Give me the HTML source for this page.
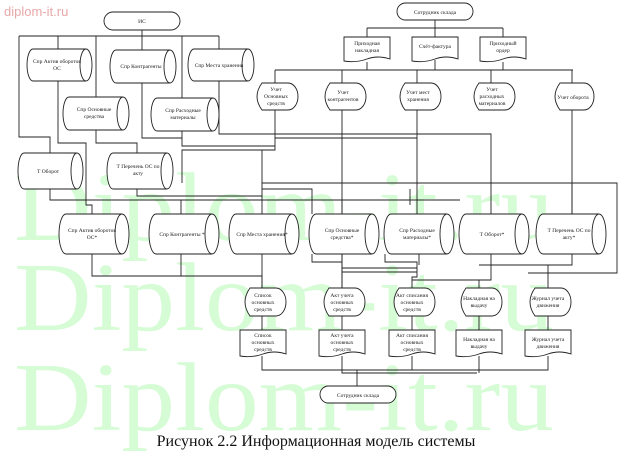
<!DOCTYPE html>
<html><head><meta charset="utf-8"><style>
html,body{margin:0;padding:0;background:#fff;width:629px;height:460px;overflow:hidden}
svg{display:block}
text{font-family:"Liberation Serif","DejaVu Serif",serif}
.t{font-size:5.5px;fill:#222;text-anchor:middle}
.s{fill:#fff;stroke:#222;stroke-width:0.9}
.l{fill:none;stroke:#222;stroke-width:0.9}
.wm{font-size:98px;fill:#d6fcd6}
</style></head><body>
<svg width="629" height="460" viewBox="0 0 629 460" xmlns="http://www.w3.org/2000/svg">
<text class="wm" x="14" y="240" textLength="540" lengthAdjust="spacingAndGlyphs">Diplom-it.ru</text>
<text class="wm" x="14" y="330" textLength="540" lengthAdjust="spacingAndGlyphs">Diplom-it.ru</text>
<text class="wm" x="14" y="430" textLength="540" lengthAdjust="spacingAndGlyphs">Diplom-it.ru</text>
<text x="4" y="16" style="font-family:'Liberation Sans',sans-serif;font-size:13px;fill:#e9a8a8">diplom-it.ru</text>

<!-- connectors -->
<g class="l">
<path d="M142 30V36M19 36H219"/>
<path d="M19 36V137H50V153"/>
<path d="M58 36V49M58 81V143H86V200"/>
<path d="M96 36V97M96 130V143H137V153"/>
<path d="M142 36V50M142 83V138H182"/>
<path d="M182 36V98M182 131V146H275"/>
<path d="M219 36V134H275"/>
<path d="M435 20V28M367 28H503M367 28V37M435 28V37M503 28V37"/>
<path d="M367 62V70M435 60V70M503 62V70M275 70H573"/>
<path d="M275 70V83M342 70V83M417 70V83M491 70V83M572 70V83"/>
<path d="M275 110V150H262V183"/>
<path d="M275 134H491V183M275 138H417"/>
<path d="M342 110V288M417 110V183M572 110V214"/>
<path d="M262 150H182V183M262 183H617V273H528"/>
<path d="M50 189V200H460M137 189V196H262V214"/>
<path d="M262 196V183M86 200V205H92V214"/>
<path d="M181 200V214M342 200V214M417 183V214M491 183V214M572 183V214"/>
<path d="M262 189H312V214M312 189V205M410 189V205"/>
<path d="M92 254V276H262V288"/>
<path d="M181 254V276"/>
<path d="M262 254V288"/>
<path d="M312 254V262H342"/>
<path d="M342 254V288"/>
<path d="M385 254V262H417V277H412V288"/>
<path d="M419 254V265M491 254V280H479V288"/>
<path d="M572 254V265H479M548 265V288"/>
<path d="M342 268H417M342 272H417M412 280H491"/>
<path d="M262 316V330M342 316V330M412 316V330M479 316V330M548 316V330"/>
<path d="M262 356V370H548V356M342 356V373H477M412 356V370M479 356V373"/>
<path d="M357 370V386"/>
</g>

<!-- terminators -->
<rect class="s" x="104" y="12" width="76" height="18" rx="9"/><text class="t" x="142" y="23">ИС</text>
<rect class="s" x="397" y="3" width="76" height="17" rx="8.5"/><text class="t" x="435" y="14">Сотрудник склада</text>
<rect class="s" x="320" y="386" width="76" height="17" rx="8.5"/><text class="t" x="358" y="397">Сотрудник склада</text>

<!-- top docs -->
<g class="s">
<path d="M344 37H390V59Q378 55 367 59Q356 63 344 61Z"/>
<path d="M412 37H458V59Q446 55 435 59Q424 63 412 61Z"/>
<path d="M480 37H526V59Q514 55 503 59Q492 63 480 61Z"/>
</g>
<text class="t" x="367" y="45">Приходная</text><text class="t" x="367" y="52">накладная</text>
<text class="t" x="435" y="48">Счёт-фактура</text>
<text class="t" x="503" y="45">Приходный</text><text class="t" x="503" y="52">ордер</text>

<!-- top displays -->
<g class="s">
<path d="M262 83H288A10 13.5 0 0 1 288 110H262Q252 96.5 262 83Z"/>
<path d="M330 83H356A10 13.5 0 0 1 356 110H330Q320 96.5 330 83Z"/>
<path d="M405 83H431A10 13.5 0 0 1 431 110H405Q395 96.5 405 83Z"/>
<path d="M479 83H505A10 13.5 0 0 1 505 110H479Q469 96.5 479 83Z"/>
<path d="M560 83H584A10 13.5 0 0 1 584 110H560Q550 96.5 560 83Z"/>
</g>
<text class="t" x="276" y="91">Учет</text><text class="t" x="276" y="98">Основных</text><text class="t" x="276" y="105">средств</text>
<text class="t" x="343" y="94">Учет</text><text class="t" x="343" y="101">контрагентов</text>
<text class="t" x="418" y="94">Учет мест</text><text class="t" x="418" y="101">хранения</text>
<text class="t" x="492" y="91">Учет</text><text class="t" x="492" y="98">расходных</text><text class="t" x="492" y="105">материалов</text>
<text class="t" x="573" y="99">Учет оборота</text>

<!-- cylinders -->
<g class="s">
<path d="M33 49H86A6 16 0 0 1 86 81H33A6 16 0 0 1 33 49Z"/><path d="M86 49A6 16 0 0 0 86 81"/>
<path d="M116 50H170A6 16.5 0 0 1 170 83H116A6 16.5 0 0 1 116 50Z"/><path d="M170 50A6 16.5 0 0 0 170 83"/>
<path d="M194 49H248A6 16 0 0 1 248 81H194A6 16 0 0 1 194 49Z"/><path d="M248 49A6 16 0 0 0 248 81"/>
<path d="M69 97H123A6 16.5 0 0 1 123 130H69A6 16.5 0 0 1 69 97Z"/><path d="M123 97A6 16.5 0 0 0 123 130"/>
<path d="M157 98H213A6 16.5 0 0 1 213 131H157A6 16.5 0 0 1 157 98Z"/><path d="M213 98A6 16.5 0 0 0 213 131"/>
<path d="M24 153H77A6 18 0 0 1 77 189H24A6 18 0 0 1 24 153Z"/><path d="M77 153A6 18 0 0 0 77 189"/>
<path d="M113 153H167A6 18 0 0 1 167 189H113A6 18 0 0 1 113 153Z"/><path d="M167 153A6 18 0 0 0 167 189"/>
<path d="M66 214H122A7 20 0 0 1 122 254H66A7 20 0 0 1 66 214Z"/><path d="M122 214A7 20 0 0 0 122 254"/>
<path d="M156 214H212A7 20 0 0 1 212 254H156A7 20 0 0 1 156 214Z"/><path d="M212 214A7 20 0 0 0 212 254"/>
<path d="M236 214H292A7 20 0 0 1 292 254H236A7 20 0 0 1 236 214Z"/><path d="M292 214A7 20 0 0 0 292 254"/>
<path d="M316 214H372A7 20 0 0 1 372 254H316A7 20 0 0 1 316 214Z"/><path d="M372 214A7 20 0 0 0 372 254"/>
<path d="M391 214H447A7 20 0 0 1 447 254H391A7 20 0 0 1 391 214Z"/><path d="M447 214A7 20 0 0 0 447 254"/>
<path d="M466 214H522A7 20 0 0 1 522 254H466A7 20 0 0 1 466 214Z"/><path d="M522 214A7 20 0 0 0 522 254"/>
<path d="M543 214H599A7 20 0 0 1 599 254H543A7 20 0 0 1 543 214Z"/><path d="M599 214A7 20 0 0 0 599 254"/>
</g>
<text class="t" x="57" y="63">Спр Актив оборотов</text><text class="t" x="57" y="70">ОС</text>
<text class="t" x="141" y="68">Спр Контрагенты</text>
<text class="t" x="219" y="67">Спр Места хранения</text>
<text class="t" x="94" y="111">Спр Основные</text><text class="t" x="94" y="118">средства</text>
<text class="t" x="183" y="112">Спр Расходные</text><text class="t" x="183" y="119">материалы</text>
<text class="t" x="48" y="173">Т Оборот</text>
<text class="t" x="138" y="168">Т Перечень ОС по</text><text class="t" x="138" y="175">акту</text>
<text class="t" x="92" y="232">Спр Актив оборотов</text><text class="t" x="92" y="239">ОС*</text>
<text class="t" x="182" y="236">Спр Контрагенты *</text>
<text class="t" x="262" y="236">Спр Места хранения*</text>
<text class="t" x="342" y="232">Спр Основные</text><text class="t" x="342" y="239">средства*</text>
<text class="t" x="417" y="232">Спр Расходные</text><text class="t" x="417" y="239">материалы*</text>
<text class="t" x="492" y="236">Т Оборот*</text>
<text class="t" x="569" y="232">Т Перечень ОС по</text><text class="t" x="569" y="239">акту*</text>

<!-- row5 displays -->
<g class="s">
<path d="M250 288H276A10 14 0 0 1 276 316H250Q240 302 250 288Z"/>
<path d="M329 288H355A10 14 0 0 1 355 316H329Q319 302 329 288Z"/>
<path d="M399 288H425A10 14 0 0 1 425 316H399Q389 302 399 288Z"/>
<path d="M466 288H492A10 14 0 0 1 492 316H466Q456 302 466 288Z"/>
<path d="M535 288H561A10 14 0 0 1 561 316H535Q525 302 535 288Z"/>
</g>
<text class="t" x="263" y="297">Список</text><text class="t" x="263" y="304">основных</text><text class="t" x="263" y="311">средств</text>
<text class="t" x="342" y="297">Акт учета</text><text class="t" x="342" y="304">основных</text><text class="t" x="342" y="311">средств</text>
<text class="t" x="412" y="297">Акт списания</text><text class="t" x="412" y="304">основных</text><text class="t" x="412" y="311">средств</text>
<text class="t" x="479" y="300">Накладная на</text><text class="t" x="479" y="307">выдачу</text>
<text class="t" x="548" y="300">Журнал учета</text><text class="t" x="548" y="307">движения</text>

<!-- row6 docs -->
<g class="s">
<path d="M240 330H286V354Q274 350 263 354Q252 358 240 356Z"/>
<path d="M319 330H365V354Q353 350 342 354Q331 358 319 356Z"/>
<path d="M389 330H435V354Q423 350 412 354Q401 358 389 356Z"/>
<path d="M456 330H502V354Q490 350 479 354Q468 358 456 356Z"/>
<path d="M525 330H571V354Q559 350 548 354Q537 358 525 356Z"/>
</g>
<text class="t" x="263" y="337">Список</text><text class="t" x="263" y="344">основных</text><text class="t" x="263" y="351">средств</text>
<text class="t" x="342" y="337">Акт учета</text><text class="t" x="342" y="344">основных</text><text class="t" x="342" y="351">средств</text>
<text class="t" x="412" y="337">Акт списания</text><text class="t" x="412" y="344">основных</text><text class="t" x="412" y="351">средств</text>
<text class="t" x="479" y="341">Накладная на</text><text class="t" x="479" y="348">выдачу</text>
<text class="t" x="548" y="341">Журнал учета</text><text class="t" x="548" y="348">движения</text>

<text x="316" y="446" style="font-size:16px;fill:#111;text-anchor:middle">Рисунок 2.2 Информационная модель системы</text>
</svg>
</body></html>
